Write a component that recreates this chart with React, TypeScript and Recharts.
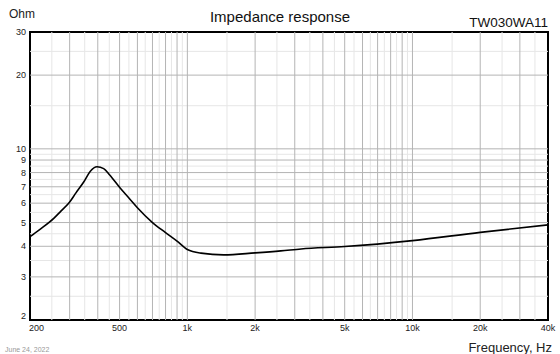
import { LineChart, Line, XAxis, YAxis, ReferenceLine, ReferenceArea } from 'recharts'

// impedance curve (Hz, Ohm)
const freqs = [200, 220, 255, 275, 297, 320, 347, 370, 397, 425, 452, 504, 550, 600, 700, 800, 900, 1000, 1150, 1450, 2000, 2600, 3200, 5000, 10000, 20000, 40000]
const impedance = [4.38, 4.67, 5.2, 5.58, 5.99, 6.61, 7.34, 8.08, 8.45, 8.3, 7.82, 6.9, 6.3, 5.75, 5.0, 4.55, 4.2, 3.88, 3.75, 3.69, 3.76, 3.83, 3.9, 3.99, 4.22, 4.56, 4.89]

const xTicks = [200, 500, 1000, 2000, 5000, 10000, 20000, 40000]
const yTicks = [2, 3, 4, 5, 6, 7, 8, 9, 10, 20, 30]

const xMajor = [300, 400, 500, 600, 700, 800, 900, 1000, 2000, 3000, 4000, 5000, 6000, 7000, 8000, 9000, 10000, 20000, 30000]
const xMinor = [250, 350, 450, 550, 650, 750, 850, 950, 1500, 2500, 3500, 4500, 5500, 6500, 7500, 8500, 9500, 15000, 25000, 35000]
const yMajor = [3, 4, 5, 6, 7, 8, 9, 10, 20]
const yMinor = [2.5, 3.5, 4.5, 5.5, 6.5, 7.5, 8.5, 9.5, 15, 25]

const data = freqs.map((f, i) => ({ f, z: impedance[i] }))

const FONT = '"Liberation Sans", Arial, sans-serif'

function fmtHz(v: number): string {
  return v >= 1000 ? `${v / 1000}k` : `${v}`
}

function XTick({ x, y, payload }: any) {
  const first = payload.value === 200
  return (
    <text x={first ? x - 1 : x} y={y} dy="0.71em" textAnchor={first ? 'start' : 'middle'} fontSize={9} fill="#222" fontFamily={FONT}>
      {fmtHz(payload.value)}
    </text>
  )
}

function YTick({ x, y, payload }: any) {
  const dy = payload.value === 2 ? -4 : 0
  return (
    <text x={x} y={y + dy} dy="0.355em" textAnchor="end" fontSize={9} fill="#222" fontFamily={FONT}>
      {payload.value}
    </text>
  )
}

export default function App() {
  return (
    <div style={{ position: 'absolute', left: 0, top: 0, width: 560, height: 354, background: '#fff', fontFamily: FONT }}>
      <LineChart width={560} height={354} data={data} margin={{ top: 32, right: 12, bottom: 4, left: 0 }}>
        <XAxis
          dataKey="f"
          type="number"
          scale="log"
          domain={[200, 40000]}
          ticks={xTicks}
          tick={<XTick />}
          interval={0}
          tickLine={false}
          axisLine={false}
          tickSize={0}
          tickMargin={5}
          height={30}
          allowDataOverflow
        />
        <YAxis
          type="number"
          scale="log"
          domain={[2, 30]}
          ticks={yTicks}
          tick={<YTick />}
          interval={0}
          tickLine={false}
          axisLine={false}
          tickSize={0}
          tickMargin={4}
          width={30}
          allowDataOverflow
        />
        {xMinor.map((v) => <ReferenceLine key={'xm' + v} x={v} stroke="#e6e6e6" strokeWidth={1} />)}
        {yMinor.map((v) => <ReferenceLine key={'ym' + v} y={v} stroke="#e6e6e6" strokeWidth={1} />)}
        {xMajor.map((v) => <ReferenceLine key={'xM' + v} x={v} stroke="#b4b4b4" strokeWidth={1} />)}
        {yMajor.map((v) => <ReferenceLine key={'yM' + v} y={v} stroke="#b4b4b4" strokeWidth={1} />)}
        <ReferenceArea x1={200} x2={40000} y1={2} y2={30} fill="none" stroke="#000" strokeWidth={2} />
        <Line type="monotone" dataKey="z" stroke="#000" strokeWidth={1.6} dot={false} isAnimationActive={false} />
      </LineChart>
      <svg width={560} height={354} style={{ position: 'absolute', left: 0, top: 0, pointerEvents: 'none' }}>
        <text x={9} y={18} fontSize={12} fill="#222" fontFamily={FONT}>Ohm</text>
        <text x={280} y={22} fontSize={15} fill="#111" textAnchor="middle" fontFamily={FONT}>Impedance response</text>
        <text x={548} y={26.5} fontSize={13.5} fill="#111" textAnchor="end" fontFamily={FONT}>TW030WA11</text>
        <text x={552} y={351.5} fontSize={13} fill="#222" textAnchor="end" fontFamily={FONT}>Frequency, Hz</text>
        <text x={5} y={352} fontSize={7} fill="#999" fontFamily={FONT}>June 24, 2022</text>
      </svg>
    </div>
  )
}
